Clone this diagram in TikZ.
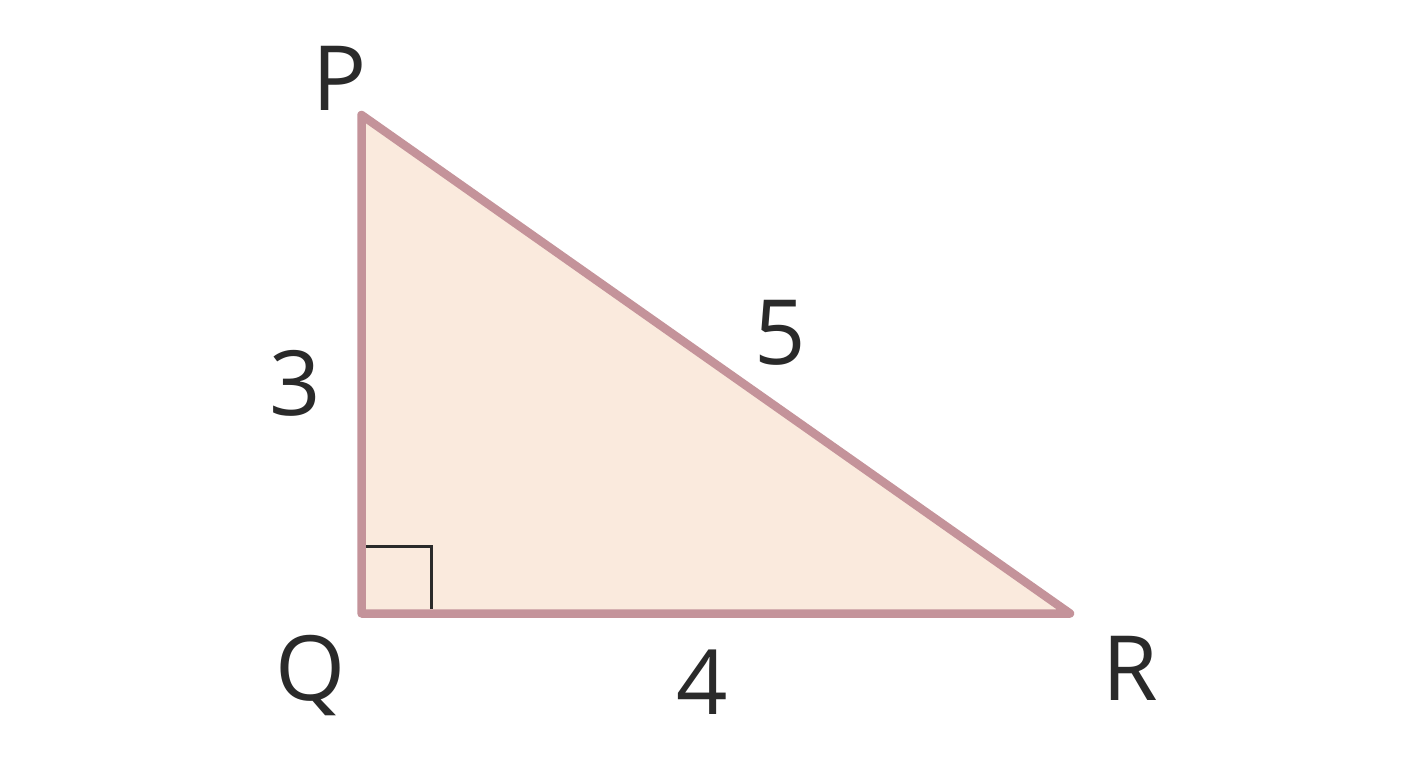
\documentclass[tikz,border=0pt]{standalone}
\usepackage{fontspec}
\setmainfont{Open Sans}
\definecolor{edge}{HTML}{C4939A}
\definecolor{fillc}{HTML}{FAEADD}
\definecolor{ink}{HTML}{2A2A2A}
\begin{document}
\begin{tikzpicture}[x=1pt,y=-1pt,
  lbl/.style={text=ink,inner sep=0pt,font=\fontsize{90}{100}\selectfont}]
\useasboundingbox[fill=white] (0,0) rectangle (1408,768);
\coordinate (P) at (361.5,115);
\coordinate (Q) at (361.5,613.5);
\coordinate (R) at (1070,613.5);
\filldraw[fill=fillc,draw=edge,line width=8.5pt,line join=round] (P) -- (Q) -- (R) -- cycle;
\coordinate (m1) at (366,546);
\coordinate (m2) at (431,546);
\coordinate (m3) at (431,609);
\draw[ink,line width=3pt] (m1) -- (m2) -- (m3);
\node[lbl] (lP) at (340,78) {P};
\node[lbl] (l3) at (295,383) {3};
\node[lbl] (l5) at (780,333) {5};
\node[lbl] (lQ) at (311,676) {Q};
\node[lbl] (l4) at (702,682) {4};
\node[lbl] (lR) at (1130,668) {R};
\end{tikzpicture}
\end{document}
